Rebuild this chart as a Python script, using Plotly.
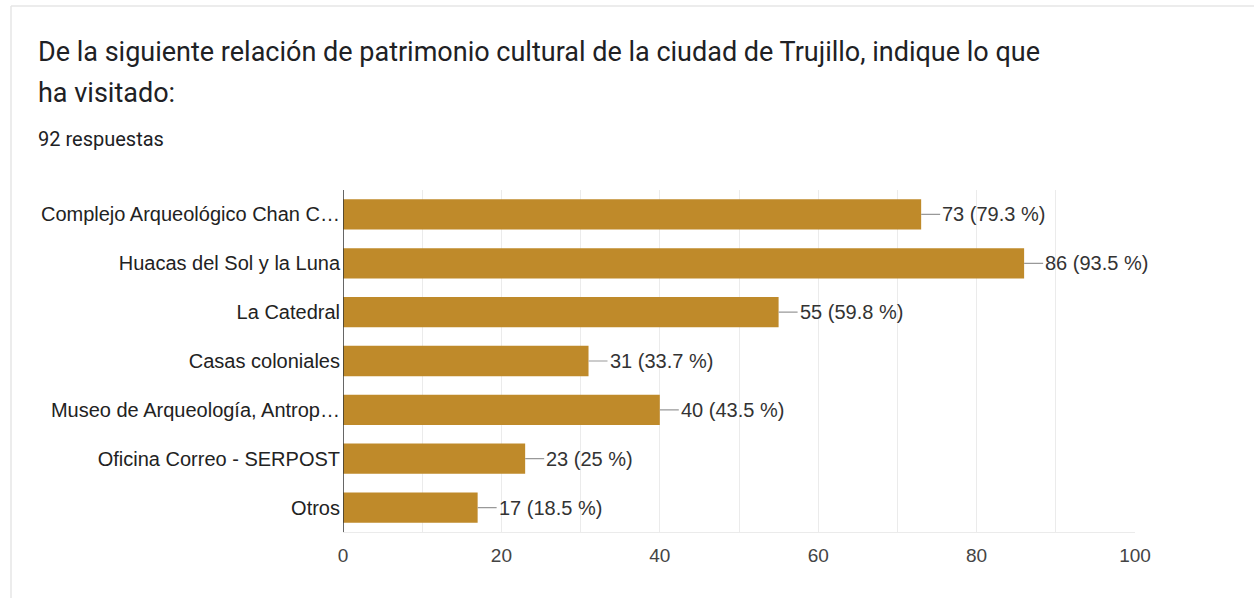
import plotly.graph_objects as go

categories = [
    "Complejo Arqueológico Chan C…",
    "Huacas del Sol y la Luna",
    "La Catedral",
    "Casas coloniales",
    "Museo de Arqueología, Antrop…",
    "Oficina Correo - SERPOST",
    "Otros",
]
counts = [73, 86, 55, 31, 40, 23, 17]
percents = ["79.3", "93.5", "59.8", "33.7", "43.5", "25", "18.5"]
x_ticks = [0, 20, 40, 60, 80, 100]

title_line1 = "De la siguiente relación de patrimonio cultural de la ciudad de Trujillo, indique lo que"
title_line2 = "ha visitado:"
subtitle = "92 respuestas"

W, H = 1254, 598
L, R, T, B = 343, 119, 190, 66
pw, ph = W - L - R, H - T - B

def px(x):
    return (x - L) / pw

def py(y):
    return 1 - (y - T) / ph

fig = go.Figure()
fig.add_trace(go.Bar(
    x=counts, y=categories, orientation="h",
    marker=dict(color="#bf8a2a", line=dict(width=0)),
    width=0.62, hoverinfo="skip",
))

annotations = []
for c, v, p in zip(categories, counts, percents):
    annotations.append(dict(
        x=v, y=c, xref="x", yref="y",
        text=f"{v} ({p} %)", showarrow=True, arrowhead=0, arrowwidth=1.2,
        arrowcolor="#999999", ax=19, ay=0, xanchor="left", yanchor="middle",
        standoff=0, startstandoff=0,
        font=dict(family="Liberation Sans, Arial", size=20, color="#333333"),
    ))

annotations += [
    dict(x=px(36), y=py(52), xref="paper", yref="paper", text=title_line1,
         showarrow=False, xanchor="left", yanchor="middle",
         font=dict(family="Roboto", size=27, color="#202124")),
    dict(x=px(36), y=py(93), xref="paper", yref="paper", text=title_line2,
         showarrow=False, xanchor="left", yanchor="middle",
         font=dict(family="Roboto", size=27, color="#202124")),
    dict(x=px(36), y=py(139), xref="paper", yref="paper", text=subtitle,
         showarrow=False, xanchor="left", yanchor="middle",
         font=dict(family="Roboto", size=20, color="#202124")),
]

shapes = [
    dict(type="line", xref="paper", yref="paper", x0=px(11), x1=px(1260),
         y0=py(6), y1=py(6), line=dict(color="#e6e6e6", width=1.5)),
    dict(type="line", xref="paper", yref="paper", x0=px(11), x1=px(11),
         y0=py(6), y1=py(610), line=dict(color="#e6e6e6", width=1.5)),
    dict(type="line", xref="x", yref="paper", x0=0, x1=0, y0=0, y1=1,
         line=dict(color="#333333", width=1.5)),
]

fig.update_layout(
    width=W, height=H,
    margin=dict(l=L, r=R, t=T, b=B, pad=0),
    paper_bgcolor="white", plot_bgcolor="white",
    showlegend=False, bargap=0.38,
    annotations=annotations, shapes=shapes,
    xaxis=dict(range=[0, 100], tickvals=x_ticks,
               showgrid=True, gridcolor="#ebebeb", gridwidth=1,
               minor=dict(dtick=10, showgrid=True, gridcolor="#ebebeb"),
               zeroline=False, showline=True, linecolor="#ebebeb", mirror=False,
               ticks="", ticklabelstandoff=6,
               tickfont=dict(family="Liberation Sans, Arial", size=19, color="#444444"),
               fixedrange=True),
    yaxis=dict(autorange="reversed", showgrid=False, zeroline=False,
               showline=False, ticks="", ticklabelstandoff=2,
               tickfont=dict(family="Liberation Sans, Arial", size=20, color="#222222"),
               fixedrange=True),
)

fig.write_html(
    "out.html",
    config={"displayModeBar": False},
    post_script="document.body.style.margin='0';document.body.style.overflow='hidden';",
)
